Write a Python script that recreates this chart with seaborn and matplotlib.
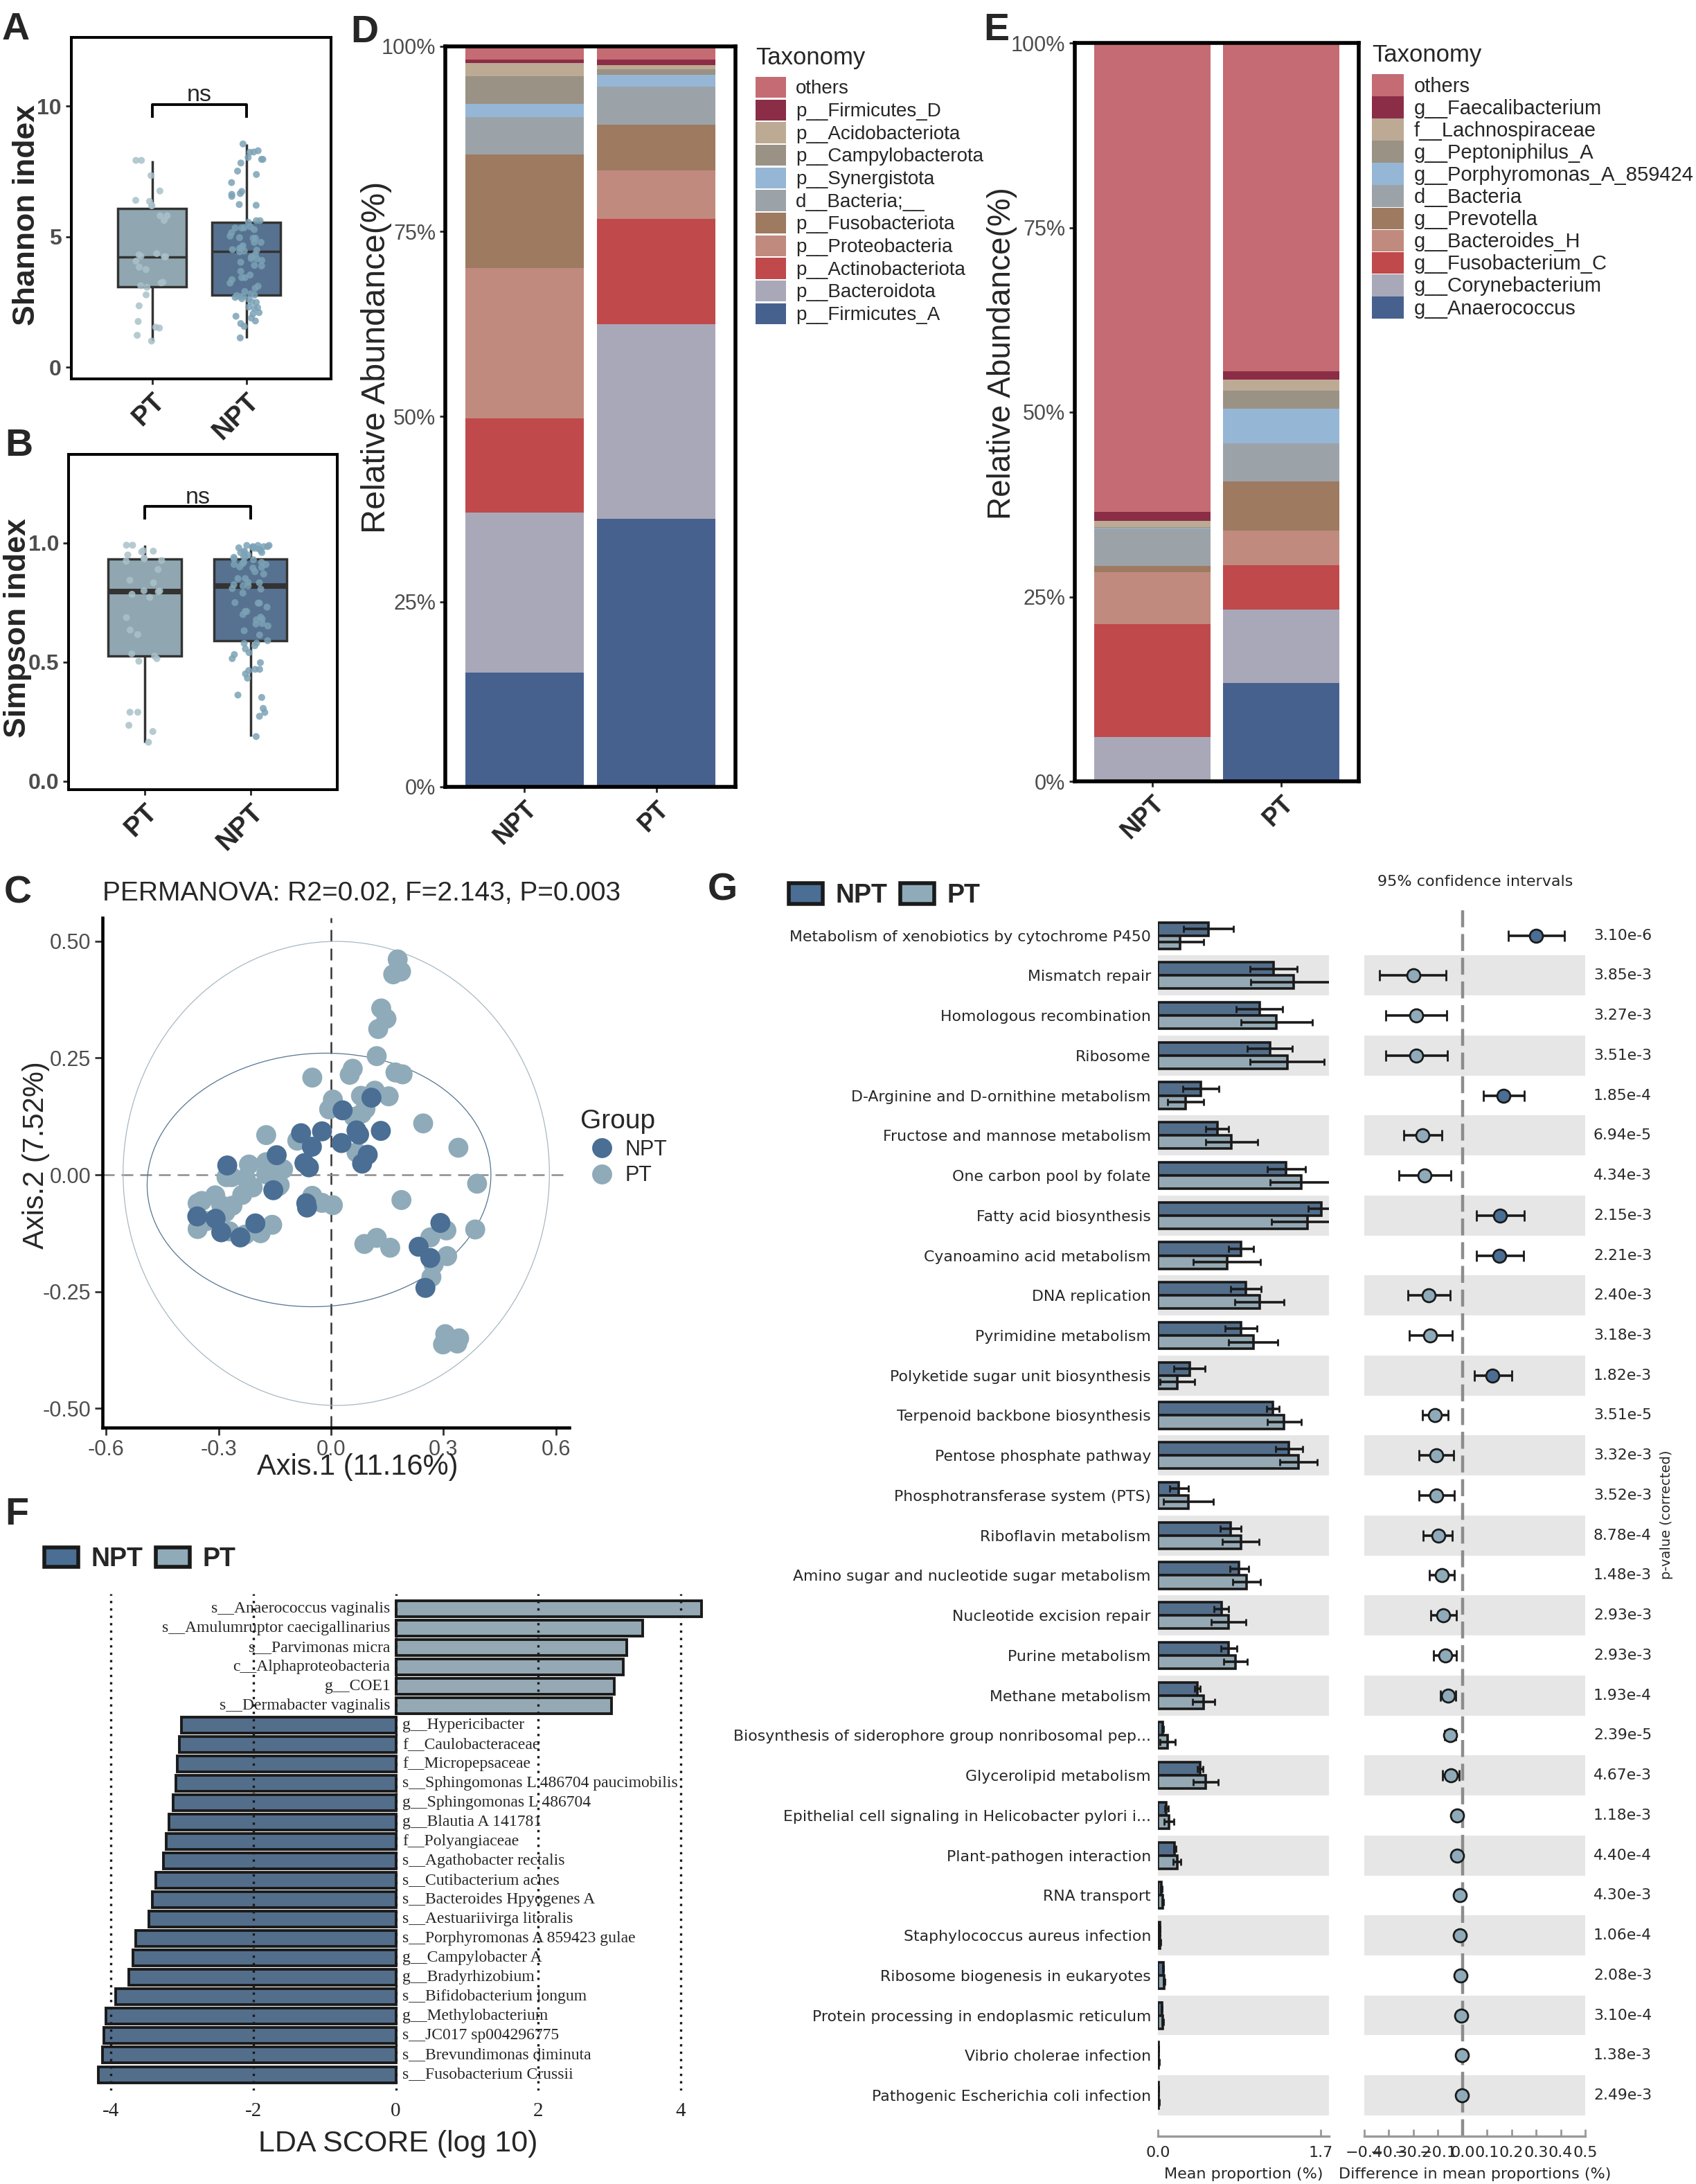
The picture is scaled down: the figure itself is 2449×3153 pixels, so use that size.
import numpy as np
import pandas as pd
import matplotlib
matplotlib.use("Agg")
import matplotlib.pyplot as plt
import matplotlib.transforms as mtrans
from matplotlib.patches import Ellipse, Patch
import seaborn as sns

# ====================== DATA ======================
box_groups = ["PT", "NPT"]
shannon_pt = [7.92, 7.92, 7.34, 6.75, 6.35, 6.18, 6.39, 6.2, 5.80, 5.62, 5.80, 4.30, 4.23, 4.23,
              4.25, 4.35, 4.06, 3.83, 3.74, 3.12, 3.23, 3.25, 3.06, 2.77, 2.35, 1.75, 1.5, 1.53,
              1.22, 1.0]
shannon_npt = [8.55, 8.29, 8.24, 8.23, 8.03, 7.96, 7.96, 7.82, 7.51, 7.38, 7.07, 6.73, 6.62, 6.65,
               6.54, 6.23, 6.2, 5.61, 5.61, 5.55, 5.38, 5.33, 5.33, 5.34, 5.27, 5.15, 5.02, 4.94,
               4.96, 4.94, 4.78, 4.78, 4.65, 4.59, 4.48, 4.32, 4.23, 4.15, 4.16, 4.09, 4.02, 3.90,
               3.88, 3.67, 3.53, 3.43, 3.43, 3.35, 3.22, 3.02, 2.90, 2.81, 2.76, 2.72, 2.62, 2.67,
               2.48, 2.28, 2.25, 2.09, 1.88, 2.04, 1.95, 1.77, 1.67, 1.56, 1.12, 2.3, 2.5, 2.6,
               2.7, 2.74, 3.1, 4.42, 4.45, 4.5, 4.55]
simpson_pt = [0.991, 0.991, 0.968, 0.966, 0.963, 0.937, 0.924, 0.934, 0.927, 0.889, 0.833, 0.844,
              0.799, 0.796, 0.785, 0.772, 0.687, 0.635, 0.616, 0.535, 0.525, 0.515, 0.504, 0.290,
              0.290, 0.235, 0.209, 0.164, 0.95, 0.80]
simpson_npt = [0.99, 0.985, 0.975, 0.978, 0.982, 0.985, 0.99, 0.966, 0.96, 0.96, 0.94, 0.942,
               0.934, 0.919, 0.91, 0.913, 0.919, 0.91, 0.898, 0.895, 0.88, 0.851, 0.851, 0.835,
               0.833, 0.825, 0.809, 0.807, 0.79, 0.748, 0.748, 0.731, 0.713, 0.713, 0.681, 0.689,
               0.678, 0.662, 0.66, 0.652, 0.632, 0.614, 0.59, 0.579, 0.569, 0.556, 0.54, 0.532,
               0.515, 0.498, 0.465, 0.47, 0.47, 0.433, 0.451, 0.362, 0.352, 0.306, 0.273, 0.289,
               0.188, 0.99, 0.98, 0.97, 0.96, 0.95, 0.945, 0.985, 0.58, 0.93, 0.92, 0.90, 0.87,
               0.82, 0.82, 0.75, 0.70]

# PCoA (panel C)
npt_x = [-0.277, -0.357, -0.308, -0.293, -0.242, -0.202, -0.145, -0.154, -0.080, -0.051, -0.024,
         -0.071, -0.059, -0.066, -0.064, 0.031, 0.028, 0.068, 0.075, 0.098, 0.083, 0.133, 0.108,
         0.292, 0.234, 0.265, 0.252]
npt_y = [0.020, -0.089, -0.094, -0.123, -0.134, -0.104, 0.042, -0.033, 0.089, 0.060, 0.093,
         0.025, 0.016, -0.061, -0.070, 0.138, 0.068, 0.095, 0.086, 0.043, 0.024, 0.094, 0.165,
         -0.103, -0.154, -0.178, -0.242]
pt_x = [0.178, 0.166, 0.187, 0.134, 0.148, 0.126, 0.122, 0.058, 0.050, 0.172, 0.191, -0.050,
        0.005, -0.005, 0.080, 0.117, 0.154, 0.061, 0.092, 0.082, 0.246, 0.340, 0.068, -0.090,
        -0.173, -0.219, -0.173, -0.173, -0.152, -0.128, -0.279, -0.265, -0.228, -0.209, -0.237,
        -0.141, -0.309, -0.345, -0.356, -0.293, -0.263, -0.282, -0.332, -0.356, -0.271, -0.229,
        -0.188, -0.157, -0.050, -0.024, 0.005, 0.188, 0.390, 0.385, 0.308, 0.265, 0.310, 0.274,
        0.268, 0.089, 0.122, 0.158, 0.305, 0.299, 0.342, 0.337, 0.315, -0.137]
pt_y = [0.461, 0.429, 0.435, 0.356, 0.334, 0.312, 0.254, 0.227, 0.214, 0.219, 0.215, 0.208,
        0.161, 0.140, 0.169, 0.180, 0.168, 0.124, 0.141, 0.131, 0.110, 0.058, 0.048, 0.073,
        0.085, 0.022, 0.027, 0.001, 0.018, 0.012, -0.005, -0.005, -0.007, -0.027, -0.043,
        -0.025, -0.044, -0.056, -0.061, -0.065, -0.066, -0.080, -0.099, -0.116, -0.121, -0.128,
        -0.125, -0.107, -0.045, -0.060, -0.065, -0.054, -0.019, -0.117, -0.119, -0.134, -0.174,
        -0.192, -0.219, -0.148, -0.135, -0.156, -0.341, -0.363, -0.350, -0.361, -0.354, -0.022]
# stat ellipses: centre x, centre y, width, height, angle
ellipse_pt = [0.014, 0.003, 1.138, 0.993, 0.0]
ellipse_npt = [-0.032, -0.011, 0.918, 0.542, 2.0]
permanova_text = "PERMANOVA: R2=0.02, F=2.143, P=0.003"

# Stacked composition (panels D, E), in %
bar_groups = ["NPT", "PT"]
phylum_taxa = ["others", "p__Firmicutes_D", "p__Acidobacteriota", "p__Campylobacterota",
               "p__Synergistota", "d__Bacteria;__", "p__Fusobacteriota", "p__Proteobacteria",
               "p__Actinobacteriota", "p__Bacteroidota", "p__Firmicutes_A"]
phylum_npt = [1.8, 0.5, 1.75, 3.8, 1.75, 5.0, 15.4, 20.3, 12.7, 21.6, 15.45]
phylum_pt = [1.8, 0.7, 0.6, 0.7, 1.6, 5.2, 6.1, 6.6, 14.2, 26.3, 36.2]
genus_taxa = ["others", "g__Faecalibacterium", "f__Lachnospiraceae", "g__Peptoniphilus_A",
              "g__Porphyromonas_A_859424", "d__Bacteria", "g__Prevotella", "g__Bacteroides_H",
              "g__Fusobacterium_C", "g__Corynebacterium", "g__Anaerococcus"]
genus_npt = [63.6, 1.2, 0.8, 0.15, 0.05, 5.1, 0.85, 7.0, 15.3, 6.0, 0.0]
genus_pt = [44.5, 1.1, 1.5, 2.4, 4.7, 5.2, 6.6, 4.7, 6.0, 10.0, 13.3]
tax_colors = ["#C56B73", "#8B2D46", "#BCAA94", "#9A9284", "#96B6D5", "#9CA3A8", "#9E7A61",
              "#C08A7E", "#C0494B", "#A9A8B8", "#47618F"]

# LEfSe (panel F)
lda_taxa = ["s__Anaerococcus vaginalis", "s__Amulumruptor caecigallinarius", "s__Parvimonas micra",
            "c__Alphaproteobacteria", "g__COE1", "s__Dermabacter vaginalis", "g__Hypericibacter",
            "f__Caulobacteraceae", "f__Micropepsaceae", "s__Sphingomonas L 486704 paucimobilis",
            "g__Sphingomonas L 486704", "g__Blautia A 141781", "f__Polyangiaceae",
            "s__Agathobacter rectalis", "s__Cutibacterium acnes", "s__Bacteroides Hpyogenes A",
            "s__Aestuariivirga litoralis", "s__Porphyromonas A 859423 gulae", "g__Campylobacter A",
            "g__Bradyrhizobium", "s__Bifidobacterium longum", "g__Methylobacterium",
            "s__JC017 sp004296775", "s__Brevundimonas diminuta", "s__Fusobacterium Crussii"]
lda_scores = [4.30, 3.47, 3.24, 3.20, 3.07, 3.03, -3.01, -3.04, -3.07, -3.09, -3.13, -3.19, -3.23,
              -3.26, -3.37, -3.42, -3.47, -3.65, -3.69, -3.75, -3.94, -4.07, -4.10, -4.12, -4.18]
lda_group = ["PT"] * 6 + ["NPT"] * 19

# STAMP extended error bar (panel G)
pathways = ["Metabolism of xenobiotics by cytochrome P450", "Mismatch repair",
            "Homologous recombination", "Ribosome", "D-Arginine and D-ornithine metabolism",
            "Fructose and mannose metabolism", "One carbon pool by folate",
            "Fatty acid biosynthesis", "Cyanoamino acid metabolism", "DNA replication",
            "Pyrimidine metabolism", "Polyketide sugar unit biosynthesis",
            "Terpenoid backbone biosynthesis", "Pentose phosphate pathway",
            "Phosphotransferase system (PTS)", "Riboflavin metabolism",
            "Amino sugar and nucleotide sugar metabolism", "Nucleotide excision repair",
            "Purine metabolism", "Methane metabolism",
            "Biosynthesis of siderophore group nonribosomal pep...", "Glycerolipid metabolism",
            "Epithelial cell signaling in Helicobacter pylori i...", "Plant-pathogen interaction",
            "RNA transport", "Staphylococcus aureus infection", "Ribosome biogenesis in eukaryotes",
            "Protein processing in endoplasmic reticulum", "Vibrio cholerae infection",
            "Pathogenic Escherichia coli infection"]
npt_mean = [0.53, 1.21, 1.06, 1.17, 0.45, 0.62, 1.34, 1.71, 0.87, 0.92, 0.87, 0.33, 1.20, 1.37,
            0.22, 0.76, 0.85, 0.665, 0.74, 0.41, 0.05, 0.44, 0.09, 0.175, 0.035, 0.02, 0.055,
            0.04, 0.008, 0.008]
npt_err = [0.26, 0.245, 0.24, 0.235, 0.19, 0.12, 0.2, 0.14, 0.13, 0.16, 0.165, 0.16, 0.065, 0.14,
           0.10, 0.11, 0.10, 0.076, 0.085, 0.03, 0.01, 0.03, 0.02, 0.01, 0.005, 0.003, 0.005,
           0.004, 0.001, 0.001]
pt_mean = [0.23, 1.42, 1.24, 1.35, 0.29, 0.77, 1.50, 1.56, 0.72, 1.06, 0.995, 0.20, 1.32, 1.47,
           0.32, 0.865, 0.925, 0.74, 0.81, 0.475, 0.10, 0.50, 0.115, 0.20, 0.05, 0.025, 0.065,
           0.05, 0.01, 0.01]
pt_err = [0.25, 0.45, 0.375, 0.385, 0.19, 0.27, 0.33, 0.37, 0.35, 0.26, 0.255, 0.18, 0.18, 0.195,
          0.26, 0.19, 0.145, 0.18, 0.125, 0.115, 0.08, 0.13, 0.05, 0.04, 0.01, 0.005, 0.01,
          0.008, 0.002, 0.002]
diff_mean = [0.30, -0.20, -0.187, -0.187, 0.168, -0.162, -0.154, 0.152, 0.151, -0.138, -0.132,
             0.123, -0.113, -0.106, -0.106, -0.099, -0.084, -0.077, -0.071, -0.059, -0.051,
             -0.048, -0.023, -0.022, -0.010, -0.010, -0.007, -0.006, -0.001, -0.001]
ci_low = [0.187, -0.338, -0.312, -0.312, 0.084, -0.239, -0.258, 0.057, 0.057, -0.223, -0.217,
          0.048, -0.164, -0.177, -0.177, -0.159, -0.135, -0.128, -0.119, -0.091, -0.074, -0.080,
          -0.030, -0.029, -0.014, -0.014, -0.011, -0.010, -0.004, -0.004]
ci_high = [0.414, -0.067, -0.064, -0.062, 0.252, -0.083, -0.048, 0.251, 0.248, -0.049, -0.043,
           0.200, -0.059, -0.035, -0.033, -0.041, -0.033, -0.026, -0.025, -0.028, -0.028, -0.014,
           -0.016, -0.015, -0.006, -0.006, -0.003, -0.002, 0.002, 0.002]
p_values = ["3.10e-6", "3.85e-3", "3.27e-3", "3.51e-3", "1.85e-4", "6.94e-5", "4.34e-3", "2.15e-3",
            "2.21e-3", "2.40e-3", "3.18e-3", "1.82e-3", "3.51e-5", "3.32e-3", "3.52e-3", "8.78e-4",
            "1.48e-3", "2.93e-3", "2.93e-3", "1.93e-4", "2.39e-5", "4.67e-3", "1.18e-3", "4.40e-4",
            "4.30e-3", "1.06e-4", "2.08e-3", "3.10e-4", "1.38e-3", "2.49e-3"]
diff_ticks = [-0.4, -0.3, -0.2, -0.1, 0.0, 0.1, 0.2, 0.3, 0.4, 0.5]

# ====================== STYLE ======================
sns.set_style("ticks")
plt.rcParams["font.family"] = ["Liberation Sans", "DejaVu Sans"]
plt.rcParams["axes.edgecolor"] = "black"

C_NPT = "#4A6E94"
C_PT = "#8FABB9"
BOX_NPT = "#4E7199"
BOX_PT = "#8AA9B7"
PTS_NPT = "#7BA2B6"
PTS_PT = "#A9C1C9"
GRAY_TXT = "#4D4D4D"
BAND = "#E6E6E6"
DV = "DejaVu Sans"

W, H, DPI = 2449, 3153, 200
fig = plt.figure(figsize=(W / DPI, H / DPI), dpi=DPI)
fig.patch.set_facecolor("white")


def add_ax(x0, y0, x1, y1):
    return fig.add_axes([x0 / W, 1 - y1 / H, (x1 - x0) / W, (y1 - y0) / H])


def fxy(x, y):
    return (x / W, 1 - y / H)


# panel letters
for letter, (lx, ly) in {"A": (3, 57), "B": (7, 658), "C": (6, 1303), "D": (506, 61),
                         "E": (1420, 58), "F": (7, 2201), "G": (1022, 1300)}.items():
    fig.text(*fxy(lx, ly), letter, fontsize=20, fontweight="bold", ha="left", va="baseline")


# ====================== A & B: boxplots ======================
def box_panel(rect, pt_vals, npt_vals, ylabel, ylim, yticks, ytl, xlim, sig, median_lw,
              width, ylab_xy):
    ax = add_ax(*rect)
    df = pd.DataFrame({"group": ["PT"] * len(pt_vals) + ["NPT"] * len(npt_vals),
                       "value": list(pt_vals) + list(npt_vals)})
    sns.boxplot(data=df, x="group", y="value", order=box_groups, hue="group",
                hue_order=box_groups, palette={"PT": BOX_PT, "NPT": BOX_NPT}, width=width,
                linewidth=1.25, linecolor="#333333", showfliers=False, showcaps=False,
                medianprops={"linewidth": median_lw}, legend=False, ax=ax)
    np.random.seed(11)
    sns.stripplot(data=df, x="group", y="value", order=box_groups, hue="group",
                  hue_order=box_groups, palette={"PT": PTS_PT, "NPT": PTS_NPT}, jitter=0.18,
                  size=3.6, alpha=0.85, linewidth=0, legend=False, ax=ax, zorder=3)
    lo, hi, ty = sig
    ax.plot([0, 0, 1, 1], [lo, hi, hi, lo], color="black", lw=1.4, solid_capstyle="butt")
    ax.text(0.5, ty, "ns", ha="center", va="baseline", fontsize=12.3)
    ax.set_xlim(*xlim)
    ax.set_ylim(*ylim)
    ax.set_yticks(yticks, labels=ytl, fontweight="bold", color=GRAY_TXT, fontsize=11.5)
    ax.set_xticks([0, 1], labels=box_groups, rotation=45, ha="right", rotation_mode="anchor",
                  fontweight="bold", fontsize=14)
    ax.tick_params(length=3, width=1, pad=2)
    ax.set_xlabel("")
    ax.set_ylabel(ylabel, fontsize=16, fontweight="bold")
    ax.yaxis.label.set_va("center")
    ax.yaxis.set_label_coords(*ylab_xy)
    for s in ax.spines.values():
        s.set_linewidth(1.45)
    return ax


box_panel((103, 54, 478, 547), shannon_pt, shannon_npt, "Shannon index", (-0.45, 12.63),
          [0, 5, 10], ["0", "5", "10"], (-0.86, 1.90), (9.55, 10.05, 10.2), 1.25, 0.73,
          (-0.171, 0.48))
box_panel((99, 656, 487, 1140), simpson_pt, simpson_npt, "Simpson index", (-0.035, 1.372),
          [0, 0.5, 1.0], ["0.0", "0.5", "1.0"], (-0.72, 1.82), (1.099, 1.154, 1.166), 2.9, 0.69,
          (-0.19, 0.483))


# ====================== D & E: stacked bars ======================
def stack_panel(rect, taxa, npt_vals, pt_vals, ylab_xy, ylab_size, title_xy, leg_xy, leg_fs,
                lab_sp):
    ax = add_ax(*rect)
    df = pd.DataFrame({"group": ["NPT"] * len(taxa) + ["PT"] * len(taxa),
                       "taxon": taxa + taxa, "abund": npt_vals + pt_vals})
    sns.histplot(data=df, x="group", hue="taxon", weights="abund", hue_order=taxa,
                 palette=dict(zip(taxa, tax_colors)), multiple="stack", discrete=True,
                 shrink=0.9, alpha=1, linewidth=0, ax=ax)
    ax.set_xlim(-0.6, 1.6)
    ax.set_ylim(0, 100)
    ax.set_yticks([0, 25, 50, 75, 100], labels=["0%", "25%", "50%", "75%", "100%"],
                  fontsize=11, color=GRAY_TXT)
    ax.set_xticks([0, 1], labels=bar_groups, rotation=45, ha="right", rotation_mode="anchor",
                  fontweight="bold", fontsize=13)
    ax.tick_params(length=3, width=1, pad=2)
    ax.set_xlabel("")
    ax.set_ylabel("Relative Abundance(%)", fontsize=ylab_size)
    ax.yaxis.label.set_va("center")
    ax.yaxis.set_label_coords(*ylab_xy)
    for s in ax.spines.values():
        s.set_linewidth(2.0)
    fig.text(*fxy(*title_xy), "Taxonomy", fontsize=12.5, ha="left", va="center")
    sns.move_legend(ax, "upper left", bbox_to_anchor=fxy(*leg_xy), bbox_transform=fig.transFigure,
                    title=None, frameon=False, fontsize=leg_fs, handlelength=1.58,
                    handleheight=1.3, labelspacing=lab_sp, handletextpad=0.5,
                    borderpad=0, borderaxespad=0)
    return ax


stack_panel((643, 67, 1062, 1136), phylum_taxa, phylum_npt, phylum_pt, (-0.2375, 0.58), 17.5,
            (1091, 84), (1091, 111), 10, 0.08)
stack_panel((1552, 62, 1962, 1128), genus_taxa, genus_npt, genus_pt, (-0.256, 0.58), 16.5,
            (1981, 80), (1981, 107), 10.5, 0.01)

# ====================== C: PCoA ======================
axC = add_ax(148, 1325, 822, 2061)
df_c = pd.DataFrame({"Axis1": pt_x + npt_x, "Axis2": pt_y + npt_y,
                     "Group": ["PT"] * len(pt_x) + ["NPT"] * len(npt_x)})
axC.axvline(0, color="#333333", lw=0.9, ls=(0, (6.8, 4)), zorder=1)
axC.axhline(0, color="#8C8C8C", lw=0.9, ls=(0, (6.8, 4)), zorder=1)
for (cx, cy, ew, eh, ang), col in [(ellipse_pt, "#A7B8C2"), (ellipse_npt, "#56738F")]:
    axC.add_patch(Ellipse((cx, cy), ew, eh, angle=ang, fill=False, edgecolor=col, lw=0.45,
                          zorder=2))
sns.scatterplot(data=df_c, x="Axis1", y="Axis2", hue="Group", hue_order=["NPT", "PT"],
                palette={"NPT": C_NPT, "PT": C_PT}, s=108, edgecolor="none", linewidth=0,
                ax=axC, zorder=3)
axC.set_xlim(-0.61, 0.636)
axC.set_ylim(-0.541, 0.55)
axC.set_xticks([-0.6, -0.3, 0, 0.3, 0.6], labels=["-0.6", "-0.3", "0.0", "0.3", "0.6"])
axC.set_yticks([-0.5, -0.25, 0, 0.25, 0.5], labels=["-0.50", "-0.25", "0.00", "0.25", "0.50"])
axC.tick_params(length=4, width=1, color="#333333", labelsize=11, labelcolor=GRAY_TXT, pad=2)
axC.spines[["top", "right"]].set_visible(False)
axC.spines[["left", "bottom"]].set_linewidth(1.65)
axC.set_xlabel("Axis.1 (11.16%)", fontsize=15)
axC.set_ylabel("Axis.2 (7.52%)", fontsize=15)
axC.xaxis.label.set_va("center")
axC.yaxis.label.set_va("center")
axC.xaxis.set_label_coords(0.547, -0.077)
axC.yaxis.set_label_coords(-0.142, 0.534)
fig.text(*fxy(148, 1290), permanova_text, fontsize=14, ha="left", va="center")
sns.move_legend(axC, "upper left", bbox_to_anchor=fxy(838, 1601), bbox_transform=fig.transFigure,
                title="Group", frameon=False, fontsize=11, title_fontsize=14, handletextpad=0.1,
                labelspacing=0.25, borderpad=0, borderaxespad=0, alignment="left")

# ====================== F: LDA ======================
axF = add_ax(109, 2301, 1034, 3018)
df_f = pd.DataFrame({"taxon": lda_taxa, "score": lda_scores, "group": lda_group})
sns.barplot(data=df_f, y="taxon", x="score", hue="group", hue_order=["NPT", "PT"],
            palette={"NPT": C_NPT, "PT": C_PT}, orient="h", dodge=False, width=0.82,
            edgecolor="#1A1A1A", linewidth=1.4, legend=False, ax=axF)
for v in [-4, -2, 0, 2, 4]:
    axF.axvline(v, color="#1A1A1A", lw=1.2, ls=(0, (1, 2.2)), zorder=4)
for i, (t, s) in enumerate(zip(lda_taxa, lda_scores)):
    if s > 0:
        axF.text(-0.078, i, t, ha="right", va="center", fontsize=8.5, family="Liberation Serif",
                 zorder=5)
    else:
        axF.text(0.097, i, t, ha="left", va="center", fontsize=8.5, family="Liberation Serif",
                 zorder=5)
axF.set_xlim(-4.5, 4.5)
axF.set_ylim(24.82, -0.75)
axF.set_yticks([])
axF.set_ylabel("")
axF.set_xticks([-4, -2, 0, 2, 4], labels=["-4", "-2", "0", "2", "4"], family="Liberation Serif",
               fontsize=10.5)
axF.tick_params(length=0, pad=6)
for s in axF.spines.values():
    s.set_visible(False)
axF.set_xlabel("LDA SCORE (log 10)", fontsize=15.5)
axF.xaxis.label.set_va("center")
axF.xaxis.set_label_coords(0.503, -0.107)
legF = [Patch(facecolor=C_NPT, edgecolor="#1A1A1A", lw=2, label="NPT"),
        Patch(facecolor=C_PT, edgecolor="#1A1A1A", lw=2, label="PT")]
fig.legend(handles=legF, loc="upper left", bbox_to_anchor=fxy(64, 2233), ncol=2, frameon=False,
           prop={"weight": "bold", "size": 13.5}, handlelength=1.3, handleheight=0.8,
           handletextpad=0.5, columnspacing=0.5, borderpad=0, borderaxespad=0)

# ====================== G: STAMP ======================
n_path = len(pathways)
axG1 = add_ax(1672, 1309, 1919, 3084)
axG2 = add_ax(1970, 1309, 2289, 3084)
for ax in (axG1, axG2):
    for i in range(1, n_path, 2):
        ax.axhspan(i - 0.5, i + 0.5, color=BAND, lw=0, zorder=0)

df_g = pd.DataFrame({"pathway": pathways * 2, "group": ["NPT"] * n_path + ["PT"] * n_path,
                     "mean": npt_mean + pt_mean})
sns.barplot(data=df_g, y="pathway", x="mean", hue="group", hue_order=["NPT", "PT"],
            order=pathways, palette={"NPT": C_NPT, "PT": C_PT}, orient="h", width=0.66,
            dodge=True, errorbar=None, edgecolor="#1A1A1A", linewidth=1.3, legend=False, ax=axG1)
err_lookup = {"NPT": npt_err, "PT": pt_err}
for cont, grp in zip(list(axG1.containers)[:2], ["NPT", "PT"]):
    errs = err_lookup[grp]
    for bar in cont:
        yc = bar.get_y() + bar.get_height() / 2
        row = int(round(yc))
        axG1.errorbar(bar.get_width(), yc, xerr=errs[row], fmt="none", ecolor="#1A1A1A",
                      elinewidth=1.3, capsize=1.8, capthick=1.0, zorder=3)
axG1.set_xlim(0, 1.787)
axG1.set_ylim(30.02, -0.72)
axG1.set_xlabel("")
axG1.set_ylabel("")
axG1.tick_params(axis="y", length=0, pad=3.6, labelsize=7.95)
for lab in axG1.get_yticklabels():
    lab.set_family(DV)
axG1.set_xticks([0, 1.7], labels=["0.0", "1.7"], family=DV)

rows = np.arange(n_path)
d = np.array(diff_mean)
lo = np.array(ci_low)
hi = np.array(ci_high)
axG2.axvline(0, color="#8C8C8C", lw=1.6, ls=(0, (5.5, 2.2)), zorder=1)
for mask, col in [(d > 0, C_NPT), (d <= 0, C_PT)]:
    axG2.errorbar(d[mask], rows[mask], xerr=[d[mask] - lo[mask], hi[mask] - d[mask]], fmt="o",
                  ms=6.8, mfc=col, mec="#1A1A1A", mew=1.0, ecolor="#1A1A1A", elinewidth=1.3,
                  capsize=2.8, capthick=1.0, zorder=3)
axG2.set_xlim(-0.4, 0.5)
axG2.set_ylim(30.02, -0.72)
axG2.set_yticks([])
axG2.set_xticks(diff_ticks, labels=[f"{v:.1f}".replace("-", "\u2212") for v in diff_ticks],
                family=DV)
blend = mtrans.blended_transform_factory(axG2.transAxes, axG2.transData)
for i, p in enumerate(p_values):
    axG2.text(1.0376, i, p, transform=blend, ha="left", va="center", fontsize=7.9, family=DV)

for ax in (axG1, axG2):
    ax.spines[["left", "top", "right"]].set_visible(False)
    ax.spines["bottom"].set_color("#999999")
    ax.spines["bottom"].set_linewidth(1.2)
    ax.tick_params(axis="x", direction="in", length=3.5, width=1, color="#999999", labelsize=8,
                   pad=5)
axG1.set_xlabel("Mean proportion (%)", fontsize=8, family=DV)
axG2.set_xlabel("Difference in mean proportions (%)", fontsize=8, family=DV)
for ax in (axG1, axG2):
    ax.xaxis.label.set_va("center")
    ax.xaxis.set_label_coords(0.5, -0.031)

fig.text(*fxy(2130, 1273), "95% confidence intervals", fontsize=8, family=DV, ha="center",
         va="center")
fig.text(*fxy(2406, 2187), "p-value (corrected)", fontsize=7, family=DV, rotation=90,
         ha="center", va="center")
legG = [Patch(facecolor=C_NPT, edgecolor="#1A1A1A", lw=2, label="NPT"),
        Patch(facecolor=C_PT, edgecolor="#1A1A1A", lw=2, label="PT")]
fig.legend(handles=legG, loc="upper left", bbox_to_anchor=fxy(1139, 1275), ncol=2, frameon=False,
           prop={"weight": "bold", "size": 13.5}, handlelength=1.3, handleheight=0.85,
           handletextpad=0.5, columnspacing=0.5, borderpad=0, borderaxespad=0)

fig.savefig("out.png", dpi=DPI)
